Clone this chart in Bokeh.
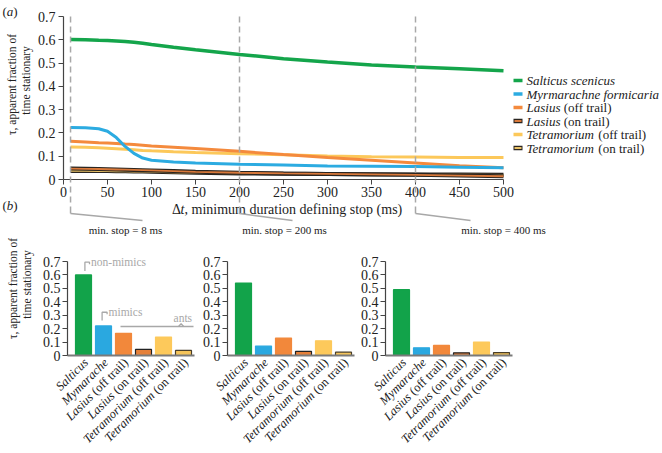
import math
from bokeh.plotting import figure
from bokeh.layouts import column, row
from bokeh.models import Range1d, FixedTicker, Label, Arrow
from bokeh.core.properties import value
from bokeh.embed import file_html
from bokeh.resources import INLINE

FONT = "Liberation Serif"

# ---------------- data ----------------
stop_ms = [8, 25, 40, 50, 60, 70, 80, 90, 100, 125, 150, 200, 250, 300, 350, 400, 450, 500]
salticus = [0.601, 0.600, 0.598, 0.597, 0.595, 0.593, 0.589, 0.585, 0.580, 0.568, 0.557, 0.537, 0.519, 0.505, 0.492, 0.483, 0.476, 0.467]
myrmarachne = [0.223, 0.222, 0.218, 0.207, 0.180, 0.142, 0.112, 0.092, 0.083, 0.075, 0.071, 0.066, 0.062, 0.058, 0.057, 0.056, 0.053, 0.050]
lasius_off = [0.164, 0.161, 0.158, 0.157, 0.155, 0.152, 0.150, 0.147, 0.144, 0.139, 0.133, 0.121, 0.107, 0.094, 0.083, 0.071, 0.059, 0.050]
lasius_on = [0.047, 0.046, 0.045, 0.044, 0.043, 0.042, 0.041, 0.040, 0.039, 0.036, 0.033, 0.029, 0.026, 0.024, 0.022, 0.020, 0.017, 0.014]
tetra_off = [0.140, 0.138, 0.136, 0.134, 0.132, 0.130, 0.128, 0.125, 0.123, 0.119, 0.116, 0.111, 0.106, 0.101, 0.098, 0.097, 0.095, 0.094]
tetra_on = [0.037, 0.037, 0.036, 0.036, 0.035, 0.035, 0.034, 0.034, 0.033, 0.031, 0.029, 0.026, 0.025, 0.024, 0.023, 0.022, 0.021, 0.020]

legend_italic = ["Salticus scenicus", "Myrmarachne formicaria", "Lasius", "Lasius", "Tetramorium", "Tetramorium"]
legend_roman = ["", "", "(off trail)", "(on trail)", "(off trail)", "(on trail)"]

bar_names = ["Salticus", "Mymarache", "Lasius", "Lasius", "Tetramorium", "Tetramorium"]
bar_suffix = ["", "", "(off trail)", "(on trail)", "(off trail)", "(on trail)"]
bars_8ms = [0.60, 0.22, 0.165, 0.045, 0.137, 0.038]
bars_200ms = [0.54, 0.07, 0.13, 0.03, 0.11, 0.025]
bars_400ms = [0.49, 0.057, 0.075, 0.02, 0.10, 0.022]

marked_stops = [8, 200, 400]
stop_labels = ["min. stop = 8 ms", "min. stop = 200 ms", "min. stop = 400 ms"]
y_ticks = [0, 0.1, 0.2, 0.3, 0.4, 0.5, 0.6, 0.7]
x_ticks = [0, 50, 100, 150, 200, 250, 300, 350, 400, 450, 500]

# ---------------- styles ----------------
COLORS = ["#14a54b", "#2cabe1", "#f48a3d", "#d9793a", "#fcc85a", "#e9c266"]
OUTLINED = [False, False, False, True, False, True]
DARK = "#2a2520"
GREY = "#a8a8a8"
TXT = "#222222"

# Times/Liberation Serif advance widths (em) used to place mixed italic/roman pieces
IT_W = {"Salticus scenicus": 6.805, "Myrmarachne formicaria": 10.093, "Lasius": 2.612,
        "Tetramorium": 5.278, "Salticus": 3.167, "Mymarache": 4.776}
RO_W = {"(off trail)": 3.693, "(on trail)": 3.527}
SPACE = 0.25


def style_axes(p, tick_size):
    p.outline_line_color = None
    p.xgrid.visible = False
    p.ygrid.visible = False
    p.background_fill_color = "white"
    p.border_fill_color = "white"
    for ax in p.axis:
        ax.axis_line_color = "#444444"
        ax.axis_line_width = 1.2
        ax.major_tick_line_color = "#444444"
        ax.major_tick_in = 0
        ax.major_tick_out = 5
        ax.minor_tick_line_color = None
        ax.major_label_text_font = FONT
        ax.major_label_text_font_size = tick_size
        ax.major_label_text_color = TXT


def label(p, x, y, text, size, style="normal", align="left", angle=0.0, color=TXT,
          x_offset=0.0, y_offset=0.0):
    p.add_layout(Label(x=x, y=y, x_offset=x_offset, y_offset=y_offset,
                       text=text, text_align=align, text_baseline="middle", angle=angle,
                       text_font=FONT, text_font_style=style, text_font_size=size, text_color=color))


def seg(p, x0, y0, x1, y1, color, width, dash="solid"):
    p.add_layout(Arrow(end=None, x_start=x0, y_start=y0, x_end=x1, y_end=y1,
                       line_color=color, line_width=width, line_dash=dash))


# ---------------- panel (a) ----------------
# the plot frame covers the whole canvas; axes are pinned at x=0 / y=0
AW, AH = 660, 236
A_X0, A_Y0 = 63, 179           # page px of the data origin
KX, KY = 440 / 500, 163 / 0.7  # px per data unit


def ax_(X):
    return (X - A_X0) / KX


def ay_(Y):
    return (A_Y0 - Y) / KY


p_a = figure(width=AW, height=AH, x_range=Range1d(ax_(0), ax_(AW)), y_range=Range1d(ay_(AH), ay_(0)),
             min_border=0, output_backend="svg", toolbar_location=None)
style_axes(p_a, "14px")
p_a.xaxis.fixed_location = 0
p_a.yaxis.fixed_location = 0
p_a.xaxis.bounds = (0, 500)
p_a.yaxis.bounds = (0, 0.7)
p_a.xaxis.ticker = FixedTicker(ticks=x_ticks)
p_a.yaxis.ticker = FixedTicker(ticks=y_ticks)
p_a.yaxis.major_label_overrides = {0: "0"}
p_a.xaxis.major_label_standoff = 2
p_a.yaxis.major_label_standoff = 3

series = [salticus, myrmarachne, lasius_off, lasius_on, tetra_off, tetra_on]
draw_order = [5, 3, 4, 2, 1, 0]
for i in draw_order:
    if OUTLINED[i]:
        p_a.line(stop_ms, series[i], line_color=DARK, line_width=4)
        p_a.line(stop_ms, series[i], line_color=COLORS[i], line_width=1.8)
    else:
        p_a.line(stop_ms, series[i], line_color=COLORS[i], line_width=3.5 if i == 0 else 3)

# x-axis title: "Δ" + italic "t" + rest
XT_FS = 14
xt_left = ax_(282 - 15.778 * XT_FS / 2)
label(p_a, xt_left, ay_(209), "Δ", f"{XT_FS}px")
label(p_a, xt_left, ay_(209), "t", f"{XT_FS}px", style="italic", x_offset=0.612 * XT_FS)
label(p_a, xt_left, ay_(209), ", minimum duration defining stop (ms)", f"{XT_FS}px", x_offset=0.89 * XT_FS)

# dashed markers and their connectors to the bar panels below
diag_end = [142, 292, 470]     # page px
label_cx = [125, 284, 503]     # page px
for s, de, cx, txt in zip(marked_stops, diag_end, label_cx, stop_labels):
    seg(p_a, s, 0.7, s, ay_(206), GREY, 1.5, "6 4")
    seg(p_a, s, ay_(206), s, ay_(213), GREY, 1.5)
    seg(p_a, s, ay_(213), ax_(de), ay_(220), GREY, 1.5)
    label(p_a, ax_(cx), ay_(229), txt, "11px", align="center")

# legend (manual, mixed italic / roman)
leg_rows = [80, 93.5, 107, 120.5, 134, 147.5]   # page px
LEG_FS = 13
gx0, gx1, tx = ax_(513), ax_(522), ax_(526)
for i in range(6):
    y = ay_(leg_rows[i])
    if OUTLINED[i]:
        seg(p_a, gx0, y, gx1, y, DARK, 4.5)
        seg(p_a, ax_(514), y, ax_(521), y, COLORS[i], 2)
    else:
        seg(p_a, gx0, y, gx1, y, COLORS[i], 3.5)
    label(p_a, tx, y, legend_italic[i], f"{LEG_FS}px", style="italic")
    if legend_roman[i]:
        off = (IT_W[legend_italic[i]] + SPACE) * LEG_FS
        label(p_a, tx, y, legend_roman[i], f"{LEG_FS}px", x_offset=off)

# y-axis title and panel letters
label(p_a, ax_(11), ay_(84), "τ, apparent fraction of", "11.5px", align="center", angle=math.pi / 2)
label(p_a, ax_(25), ay_(80), "time stationary", "11.5px", align="center", angle=math.pi / 2)
for txt_, Y in (("a", 11), ("b", 205)):
    label(p_a, ax_(2), ay_(Y), "(", "13px")
    label(p_a, ax_(2), ay_(Y), txt_, "13px", style="italic", x_offset=0.333 * 13)
    label(p_a, ax_(2), ay_(Y), ")", "13px", x_offset=0.833 * 13)


# ---------------- panel (b) ----------------
BAR_FILL = ["#12a34a", "#2aa8e0", "#f2883b", "#e5803a", "#fdc95b", "#f5c45a"]
BAR_LINE = ["#12a34a", "#2aa8e0", "#f2883b", "#222222", "#fdc95b", "#4a3f2a"]
CAT_FS = 12.5
B_TOP, B_H = 236, 214          # page px of the bar row
B_Y0 = 355                     # page px of y = 0
BKX, BKY = 20, 94 / 0.7        # px per unit
# (canvas left, canvas right, page x of the first bar centre)
B_SPANS = [(0, 197, 83), (197, 355, 243), (355, 545, 401)]


def make_bar(vals, k):
    c0, c1, xc = B_SPANS[k]

    def bx(X):
        return (X - xc) / BKX

    def by(Y):
        return (B_Y0 - Y) / BKY

    b = figure(width=c1 - c0, height=B_H, x_range=Range1d(bx(c0), bx(c1)),
               y_range=Range1d(by(B_TOP + B_H), by(B_TOP)),
               min_border=0, output_backend="svg", toolbar_location=None)
    style_axes(b, "14px")
    b.yaxis.fixed_location = -0.8
    b.yaxis.bounds = (0, 0.7)
    b.yaxis.ticker = FixedTicker(ticks=y_ticks)
    b.yaxis.major_label_overrides = {0: "0"}
    b.yaxis.major_label_standoff = 2
    b.xaxis.fixed_location = 0
    b.xaxis.bounds = (-0.8, 5.55)
    b.xaxis.ticker = FixedTicker(ticks=[])
    b.xaxis.major_tick_out = 0
    b.xaxis.major_label_text_font_size = "0px"
    b.xaxis.axis_line_color = "#7a7a7a"
    b.xaxis.axis_line_width = 2
    idx = list(range(len(vals)))
    b.vbar(x=idx, top=vals, width=0.8, fill_color=BAR_FILL, line_color=BAR_LINE, line_width=1.2)
    # rotated category labels (italic genus, roman suffix)
    d = math.cos(math.pi / 4)
    ay = -5 / BKY
    for i in idx:
        axp = i + 2.5 / BKX
        suf = bar_suffix[i]
        if suf:
            label(b, axp, ay, suf, f"{CAT_FS}px", align="right", angle=math.pi / 4)
            w = (RO_W[suf] + SPACE) * CAT_FS
            label(b, axp, ay, bar_names[i], f"{CAT_FS}px", style="italic", align="right",
                  angle=math.pi / 4, x_offset=-w * d, y_offset=-w * d)
        else:
            label(b, axp, ay, bar_names[i], f"{CAT_FS}px", style="italic", align="right", angle=math.pi / 4)
    if k == 0:
        label(b, bx(12), by(288), "τ, apparent fraction of", "11.5px", align="center", angle=math.pi / 2)
        label(b, bx(26), by(284), "time stationary", "11.5px", align="center", angle=math.pi / 2)
        # group brackets
        b.multi_line(xs=[[0.07, 0.07, 0.3, 0.3], [0.93, 0.93, 1.18, 1.18], [1.85, 5.5], [4.75, 4.88, 5.01]],
                     ys=[[0.63, 0.695, 0.695, 0.68], [0.26, 0.322, 0.322, 0.307], [0.216, 0.216], [0.216, 0.236, 0.216]],
                     line_color=GREY, line_width=1.3)
        b.text(x=[0.38, 1.25, 5.43], y=[0.695, 0.322, 0.276], text=["non-mimics", "mimics", "ants"],
               text_align=["left", "left", "right"], text_baseline="middle", text_font_size="11.5px",
               text_color=GREY, text_font=value(FONT))
    return b


b1 = make_bar(bars_8ms, 0)
b2 = make_bar(bars_200ms, 1)
b3 = make_bar(bars_400ms, 2)

layout = column(p_a, row(b1, b2, b3))
open("out.html", "w").write(file_html(layout, INLINE))
